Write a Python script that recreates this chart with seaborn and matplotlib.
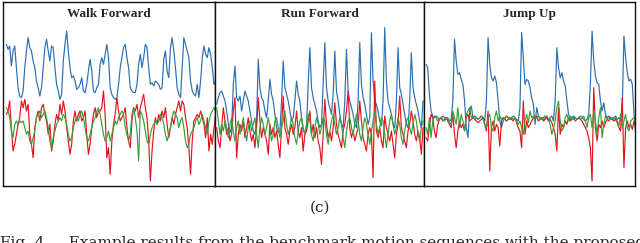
import numpy as np
import matplotlib.pyplot as plt
import seaborn as sns

# signals (arbitrary units, one sample per ~1.7 px)
titles = ["Walk Forward", "Run Forward", "Jump Up"]

walk_blue = [430, 415, 425, 365, 410, 425, 360, 300, 275, 270, 290, 360, 410, 450, 420, 410, 380, 360, 320, 300,
             275, 300, 360, 420, 445, 410, 380, 425, 420, 360, 310, 290, 265, 280, 380, 430, 470, 410, 360, 330,
             335, 320, 295, 300, 310, 330, 290, 285, 310, 350, 385, 350, 290, 285, 300, 310, 370, 390, 370, 400,
             430, 390, 300, 280, 270, 265, 270, 310, 360, 390, 420, 430, 390, 360, 300, 290, 285, 285, 310, 370,
             400, 360, 390, 430, 420, 360, 310, 315, 305, 320, 315, 310, 295, 300, 385, 410, 350, 330, 420, 450,
             410, 360, 300, 280, 270, 360, 450, 430, 410, 390, 320, 290, 280, 275, 310, 270, 320, 390, 425, 400,
             390, 420, 400, 360, 310, 320]
walk_red = [220, 230, 260, 180, 110, 130, 160, 190, 210, 260, 240, 265, 230, 250, 160, 130, 90, 180, 210, 230,
            200, 240, 250, 220, 200, 160, 190, 110, 140, 190, 220, 200, 250, 220, 260, 230, 180, 140, 100, 130,
            200, 230, 200, 220, 230, 200, 210, 230, 160, 100, 130, 180, 220, 240, 210, 230, 230, 240, 290, 220,
            90, 120, 40, 140, 190, 220, 270, 230, 200, 210, 220, 240, 180, 140, 120, 200, 240, 230, 250, 210,
            240, 260, 280, 240, 210, 140, 20, 110, 170, 210, 190, 220, 200, 230, 210, 240, 190, 150, 180, 210,
            190, 220, 240, 260, 230, 260, 250, 210, 180, 120, 40, 140, 200, 210, 220, 210, 230, 210, 190, 150,
            210, 110, 160, 130, 180, 220]
walk_green = [240, 230, 210, 170, 150, 190, 200, 190, 200, 195, 200, 180, 160, 170, 140, 130, 150, 170, 210, 220,
              230, 210, 220, 230, 210, 180, 140, 120, 150, 170, 190, 200, 210, 200, 220, 210, 190, 160, 140, 150,
              180, 200, 210, 200, 220, 230, 210, 180, 150, 140, 160, 180, 200, 210, 230, 240, 220, 190, 160, 140,
              150, 170, 140, 160, 180, 200, 190, 210, 220, 230, 220, 180, 160, 140, 160, 220, 240, 210, 170, 80,
              230, 220, 200, 170, 140, 130, 160, 180, 190, 200, 190, 200, 220, 210, 190, 160, 140, 160, 180, 210,
              230, 220, 210, 180, 200, 210, 180, 140, 120, 130, 160, 170, 180, 200, 210, 190, 200, 220, 200, 180,
              160, 200, 220, 230, 240, 230]

run_blue = [250, 270, 285, 290, 275, 260, 230, 190, 165, 180, 310, 365, 270, 260, 275, 230, 260, 290, 275, 260,
            230, 200, 170, 160, 200, 385, 300, 270, 260, 230, 210, 260, 325, 280, 260, 220, 180, 165, 170, 260,
            380, 300, 280, 260, 230, 200, 210, 260, 320, 280, 260, 210, 170, 165, 180, 310, 420, 300, 270, 250,
            230, 200, 180, 190, 310, 435, 300, 260, 240, 220, 280, 410, 290, 260, 220, 190, 180, 260, 415, 290,
            260, 240, 220, 190, 180, 260, 435, 310, 270, 250, 220, 190, 210, 465, 320, 260, 250, 230, 200, 185,
            260, 480, 320, 260, 240, 220, 190, 180, 260, 420, 300, 280, 250, 220, 190, 180, 260, 405, 300, 270,
            250, 230, 200, 180, 260]
run_red = [180, 140, 120, 180, 240, 200, 160, 180, 140, 160, 230, 270, 90, 160, 190, 170, 200, 150, 180, 210,
           170, 140, 160, 120, 180, 270, 200, 150, 180, 160, 140, 100, 190, 160, 180, 150, 170, 130, 90, 180,
           275, 180, 160, 130, 170, 190, 160, 180, 230, 170, 150, 180, 110, 160, 170, 200, 230, 160, 190, 150,
           180, 140, 120, 70, 160, 265, 190, 150, 170, 140, 180, 255, 190, 160, 140, 120, 170, 190, 230, 290,
           180, 150, 170, 140, 160, 180, 260, 200, 150, 130, 110, 160, 180, 160, 30, 320, 170, 150, 180, 140,
           120, 215, 180, 160, 140, 170, 130, 90, 160, 190, 275, 180, 160, 140, 120, 170, 190, 230, 200, 160,
           140, 170, 150, 100, 180]
run_green = [240, 200, 160, 190, 170, 200, 180, 150, 190, 210, 170, 140, 180, 200, 160, 180, 210, 170, 140, 180,
             200, 170, 190, 210, 160, 120, 180, 210, 190, 160, 180, 210, 180, 140, 160, 200, 210, 180, 150, 180,
             200, 230, 190, 160, 180, 210, 190, 150, 130, 170, 200, 210, 180, 160, 190, 220, 200, 160, 140, 180,
             210, 190, 160, 180, 210, 200, 160, 130, 170, 200, 220, 190, 160, 180, 210, 190, 150, 120, 170, 200,
             210, 180, 160, 190, 220, 200, 160, 140, 180, 210, 190, 160, 130, 170, 200, 230, 190, 160, 180, 210,
             200, 160, 120, 160, 200, 220, 190, 160, 180, 210, 190, 150, 130, 170, 200, 210, 180, 160, 190, 220,
             200, 160, 140, 180, 200]

jump_blue = [370, 360, 280, 230, 215, 210, 215, 210, 205, 210, 215, 210, 205, 210, 200, 205, 260, 445, 380, 340,
             345, 325, 310, 260, 180, 150, 230, 245, 210, 215, 210, 205, 210, 215, 210, 200, 260, 450, 370, 330,
             320, 335, 315, 260, 200, 180, 200, 210, 215, 210, 205, 210, 215, 210, 205, 200, 240, 465, 390, 310,
             325, 320, 300, 270, 250, 190, 240, 215, 210, 205, 210, 215, 210, 205, 210, 215, 200, 260, 420, 360,
             330, 345, 320, 305, 260, 220, 205, 210, 215, 210, 205, 210, 215, 210, 205, 200, 205, 220, 310, 470,
             380, 335, 315, 310, 260, 230, 255, 220, 210, 215, 210, 205, 210, 215, 205, 210, 200, 240, 455, 390,
             345, 320, 325, 310, 220, 165]
jump_red = [150, 140, 180, 220, 210, 170, 150, 190, 205, 210, 200, 205, 210, 200, 190, 180, 220, 160, 120, 170,
            200, 180, 190, 170, 210, 220, 200, 205, 210, 205, 200, 195, 200, 205, 210, 190, 170, 230, 50, 180,
            200, 170, 190, 180, 125, 200, 210, 205, 200, 205, 210, 205, 200, 210, 195, 180, 170, 120, 260, 160,
            200, 180, 190, 200, 210, 205, 215, 200, 205, 210, 200, 205, 210, 200, 205, 195, 180, 160, 110, 240,
            160, 190, 180, 200, 190, 210, 200, 205, 210, 200, 205, 210, 205, 200, 190, 180, 170, 150, 120, 20,
            300, 180, 140, 190, 180, 200, 180, 195, 205, 200, 210, 205, 200, 205, 195, 180, 170, 270, 60, 180,
            200, 180, 190, 175, 200, 180]
jump_green = [180, 160, 210, 150, 200, 215, 210, 200, 205, 210, 205, 200, 210, 205, 195, 190, 230, 210, 190, 240,
              180, 220, 200, 170, 220, 230, 240, 210, 215, 205, 210, 205, 210, 215, 205, 190, 180, 210, 220, 180,
              170, 210, 230, 200, 215, 205, 210, 205, 215, 210, 205, 210, 205, 210, 200, 190, 200, 180, 160, 200,
              220, 195, 230, 210, 215, 205, 210, 215, 205, 210, 205, 210, 215, 205, 190, 160, 180, 200, 240, 260,
              200, 170, 180, 210, 220, 200, 215, 210, 205, 210, 205, 210, 205, 210, 215, 200, 180, 210, 220, 180,
              230, 200, 160, 210, 240, 150, 190, 215, 205, 210, 205, 210, 205, 210, 200, 185, 220, 180, 200, 220,
              180, 170, 200, 205, 210, 190]

panels = [(walk_blue, walk_red, walk_green),
          (run_blue, run_red, run_green),
          (jump_blue, jump_red, jump_green)]
colors = ["#2a6fb0", "#e3141c", "#3a9e3a"]

sns.set_style("white")
fig = plt.figure(figsize=(6.4, 2.43), dpi=100)

# panel boxes in pixels: left edge, width
edges = [(3, 212), (215, 209), (424, 211)]
xl = [(-2, 124.6), (-1, 124.6), (-1.2, 124.6)]

for i, (sigs, ttl) in enumerate(zip(panels, titles)):
    l, w = edges[i]
    ax = fig.add_axes([l / 640, 1 - 186 / 243, w / 640, 184 / 243])
    for s, c in zip(sigs, colors):
        sns.lineplot(x=np.arange(len(s)), y=s, color=c, lw=0.85, ax=ax)
    ax.set_xlim(*xl[i])
    ax.set_ylim(5, 557)
    ax.set_xticks([])
    ax.set_yticks([])
    ax.set_xlabel("")
    ax.set_ylabel("")
    for sp in ax.spines.values():
        sp.set_color("#111111")
        sp.set_linewidth(1.0)
    ax.text(0.5, 0.97, ttl, transform=ax.transAxes, ha="center", va="top",
            fontsize=9.5, fontweight="bold", family="Liberation Serif")

fig.text(0.5, 1 - 208 / 243, "(c)", ha="center", va="center",
         fontsize=11, family="DejaVu Serif")
# caption line below, cut by the lower edge as in the reference
fig.text(0.0, 1 - 236 / 243,
         "Fig. 4.    Example results from the benchmark motion sequences with the proposed approach.   The",
         ha="left", va="top", fontsize=11, family="DejaVu Serif")

fig.savefig("out.png", dpi=100)
